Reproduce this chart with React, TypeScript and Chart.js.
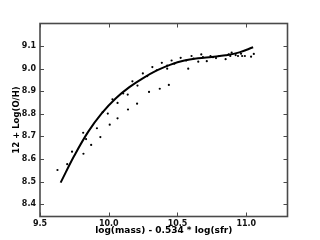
import React, { useEffect, useRef } from "react";
import { Chart, registerables } from "chart.js";

Chart.register(...registerables);

// Observed galaxies (scatter)
const obsX = [9.627, 9.698, 9.733, 9.814, 9.816, 9.835, 9.872, 9.914, 9.939, 9.956, 9.993, 10.007, 10.027, 10.064, 10.064, 10.105, 10.138, 10.14, 10.172, 10.209, 10.206, 10.248, 10.28, 10.293, 10.317, 10.349, 10.371, 10.386, 10.425, 10.425, 10.437, 10.457, 10.477, 10.523, 10.563, 10.578, 10.602, 10.617, 10.651, 10.673, 10.685, 10.713, 10.74, 10.758, 10.78, 10.804, 10.85, 10.872, 10.884, 10.894, 10.923, 10.94, 10.962, 10.97, 10.99, 11.035, 11.055];
const obsY = [8.551, 8.577, 8.632, 8.716, 8.623, 8.688, 8.662, 8.736, 8.697, 8.807, 8.801, 8.752, 8.864, 8.848, 8.78, 8.89, 8.885, 8.819, 8.944, 8.925, 8.845, 8.979, 8.967, 8.897, 9.007, 8.993, 8.911, 9.026, 9.014, 9.0, 8.928, 9.036, 9.022, 9.048, 9.036, 9.0, 9.056, 9.045, 9.031, 9.063, 9.051, 9.033, 9.056, 9.051, 9.047, 9.056, 9.042, 9.063, 9.056, 9.071, 9.06, 9.056, 9.066, 9.056, 9.056, 9.053, 9.065];

// Fitted relation (line)
const fitX = [9.65, 9.75, 9.85, 9.95, 10.05, 10.15, 10.25, 10.35, 10.45, 10.55, 10.65, 10.75, 10.85, 10.95, 11.05];
const fitY = [8.495, 8.615, 8.72, 8.803, 8.868, 8.918, 8.958, 8.992, 9.018, 9.036, 9.046, 9.052, 9.059, 9.072, 9.095];

const xTickValues = [9.5, 10.0, 10.5, 11.0];
const yTickValues = [8.4, 8.5, 8.6, 8.7, 8.8, 8.9, 9.0, 9.1];

const xTitle = "log(mass) - 0.534 * log(sfr)";
const yTitle = "12 + Log(O/H)";

const FONT = "'DejaVu Sans', sans-serif";
const FRAME = "#4a4a4a";

const framePlugin = {
  id: "frameTicks",
  afterDraw(chart: any) {
    const { ctx, chartArea: a, scales } = chart;
    const xs = scales.x;
    const ys = scales.y;
    ctx.save();
    ctx.strokeStyle = FRAME;
    ctx.lineWidth = 1;
    const L = 4;
    ctx.beginPath();
    xTickValues.forEach((v) => {
      const p = Math.round(xs.getPixelForValue(v)) + 0.5;
      ctx.moveTo(p, a.bottom);
      ctx.lineTo(p, a.bottom - L);
      ctx.moveTo(p, a.top);
      ctx.lineTo(p, a.top + L);
    });
    yTickValues.forEach((v) => {
      const p = Math.round(ys.getPixelForValue(v)) + 0.5;
      ctx.moveTo(a.left, p);
      ctx.lineTo(a.left + L, p);
      ctx.moveTo(a.right, p);
      ctx.lineTo(a.right - L, p);
    });
    ctx.stroke();
    ctx.lineWidth = 1.6;
    ctx.strokeRect(a.left, a.top, a.right - a.left, a.bottom - a.top);
    ctx.restore();
  },
};

export default function App() {
  const ref = useRef<HTMLCanvasElement>(null);
  useEffect(() => {
    document.body.style.margin = "0";
    const canvas = ref.current;
    if (!canvas) return;
    const chart = new Chart(canvas, {
      type: "scatter",
      data: {
        datasets: [
          {
            label: "fit",
            data: fitX.map((x, i) => ({ x, y: fitY[i] })),
            showLine: true,
            borderColor: "#000",
            borderWidth: 2,
            pointRadius: 0,
            tension: 0.4,
            fill: false,
          } as any,
          {
            label: "data",
            data: obsX.map((x, i) => ({ x, y: obsY[i] })),
            backgroundColor: "#000",
            borderColor: "#000",
            borderWidth: 0,
            pointRadius: 1.1,
          },
        ],
      },
      options: {
        responsive: false,
        animation: false,
        events: [],
        layout: { padding: { left: 0, right: 32.5, top: 23.5, bottom: 0 } },
        plugins: { legend: { display: false }, tooltip: { enabled: false } },
        scales: {
          x: {
            type: "linear",
            min: 9.5,
            max: 11.3,
            afterBuildTicks: (s: any) => {
              s.ticks = xTickValues.map((value) => ({ value }));
            },
            afterFit: (s: any) => {
              s.height = 23.5;
            },
            grid: { display: false, drawTicks: false },
            border: { display: false },
            ticks: {
              padding: 3,
              color: "#111",
              font: { family: FONT, size: 8, weight: "bold" },
              callback: (v: any) => Number(v).toFixed(1),
              maxRotation: 0,
              autoSkip: false,
            },
            title: {
              display: true,
              text: xTitle,
              color: "#000",
              font: { family: FONT, size: 9, weight: "bold" },
              padding: { top: 0, bottom: 3.5 },
            },
          },
          y: {
            type: "linear",
            min: 8.345,
            max: 9.2,
            afterBuildTicks: (s: any) => {
              s.ticks = yTickValues.map((value) => ({ value }));
            },
            afterFit: (s: any) => {
              s.width = 40;
            },
            grid: { display: false, drawTicks: false },
            border: { display: false },
            ticks: {
              padding: 4,
              color: "#111",
              font: { family: FONT, size: 8, weight: "bold" },
              callback: (v: any) => Number(v).toFixed(1),
              autoSkip: false,
            },
            title: {
              display: true,
              text: yTitle,
              color: "#000",
              font: { family: FONT, size: 8.5, weight: "bold" },
              padding: { top: 12, bottom: 0 },
            },
          },
        },
      },
      plugins: [framePlugin],
    });
    return () => chart.destroy();
  }, []);
  return (
    <div style={{ width: 320, height: 240, background: "#fff" }}>
      <canvas ref={ref} width={320} height={240} />
    </div>
  );
}
